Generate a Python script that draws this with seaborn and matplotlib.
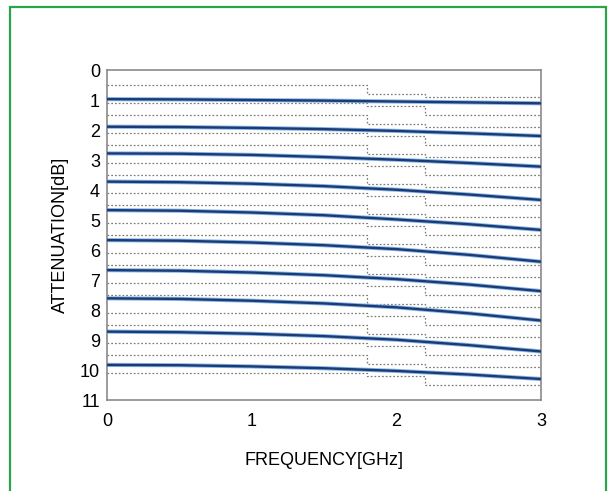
import matplotlib
matplotlib.use("Agg")
import matplotlib.pyplot as plt
from matplotlib.patches import Rectangle
import seaborn as sns
import pandas as pd
import numpy as np

# nominal attenuation steps [dB]
levels = [1, 2, 3, 4, 5, 6, 7, 8, 9, 10]

# measured attenuation read at these frequencies [GHz]
freq = [0.0, 0.5, 1.0, 1.5, 2.0, 2.5, 3.0]
attenuation = {
    1: [0.97, 0.98, 1.00, 1.02, 1.05, 1.08, 1.11],
    2: [1.89, 1.90, 1.93, 1.97, 2.03, 2.11, 2.20],
    3: [2.78, 2.79, 2.83, 2.90, 2.99, 3.10, 3.22],
    4: [3.72, 3.74, 3.79, 3.87, 3.99, 4.15, 4.33],
    5: [4.67, 4.69, 4.75, 4.84, 4.98, 5.14, 5.33],
    6: [5.67, 5.69, 5.75, 5.84, 5.97, 6.16, 6.39],
    7: [6.67, 6.69, 6.75, 6.84, 6.97, 7.15, 7.37],
    8: [7.61, 7.63, 7.69, 7.78, 7.91, 8.11, 8.35],
    9: [8.72, 8.74, 8.79, 8.87, 8.99, 9.17, 9.38],
    10: [9.83, 9.84, 9.88, 9.94, 10.03, 10.15, 10.30],
}

# tolerance window per frequency band (offset from nominal)
band_edges = [0.0, 1.8, 2.2, 3.0]
tol_low = [-0.5, -0.2, -0.1]
tol_high = [0.1, 0.2, 0.5]

x_ticks = [0, 1, 2, 3]
y_ticks = list(range(0, 12))

df = pd.DataFrame(
    [(lv, f, a) for lv in levels for f, a in zip(freq, attenuation[lv])],
    columns=["level", "freq", "att"],
)

sns.set_style("white")
plt.rcParams["font.family"] = ["Liberation Sans", "DejaVu Sans"]

fig = plt.figure(figsize=(6.14, 4.91), dpi=100)
ax = fig.add_axes([0.1743, 0.1853, 0.7068, 0.6721])

# tolerance limits as dotted steps
for lv in levels:
    for tol in (tol_low, tol_high):
        yy = [lv + t for t in tol] + [lv + tol[-1]]
        ax.plot(band_edges, yy, drawstyle="steps-post", color="#7c7c74",
                lw=0.9, ls=(0, (1.4, 1.6)), zorder=1)

# measured curves: light halo + dark trace
sns.lineplot(data=df, x="freq", y="att", units="level", estimator=None,
             color="#86b6ea", lw=3.0, ax=ax, zorder=2)
sns.lineplot(data=df, x="freq", y="att", units="level", estimator=None,
             color="#1d3b73", lw=1.7, ax=ax, zorder=3)

ax.set_xlim(0, 3)
ax.set_ylim(11, 0)
ax.set_xticks(x_ticks)
ax.set_yticks(y_ticks)
ax.tick_params(direction="in", length=4, width=0.8, color="#555555",
               labelsize=13, labelcolor="black")
ax.tick_params(axis="x", pad=9)
ax.tick_params(axis="y", pad=5)
for sp in ax.spines.values():
    sp.set_color("#8a8a8a")
    sp.set_linewidth(1.2)
ax.set_xlabel("FREQUENCY[GHz]", fontsize=13, labelpad=16, color="black")
ax.set_ylabel("ATTENUATION[dB]", fontsize=13, labelpad=8, color="black")

# green frame around the figure
fig.patches.append(Rectangle((10 / 614, -0.01), 596 / 614, (491 - 7) / 491 + 0.01,
                             transform=fig.transFigure, fill=False,
                             edgecolor="#2aa44a", lw=1.6))

fig.savefig("out.png", dpi=100)
